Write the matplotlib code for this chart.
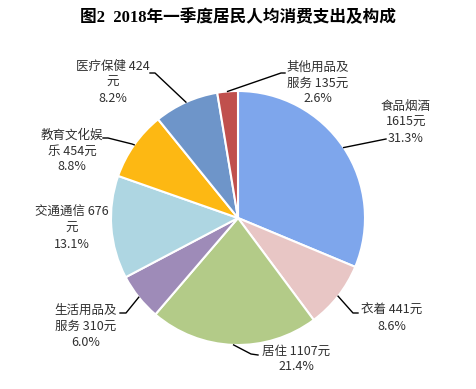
import numpy as np
import matplotlib
matplotlib.use("Agg")
import matplotlib.pyplot as plt

plt.rcParams['font.family'] = ['Noto Sans CJK SC', 'DejaVu Sans']

categories = ["食品烟酒", "衣着", "居住", "生活用品及服务", "交通通信",
              "教育文化娱乐", "医疗保健", "其他用品及服务"]
amounts = [1615, 441, 1107, 310, 676, 454, 424, 135]
percents = ["31.3%", "8.6%", "21.4%", "6.0%", "13.1%", "8.8%", "8.2%", "2.6%"]
label_texts = [
    "食品烟酒\n1615元\n31.3%",
    "衣着 441元\n8.6%",
    "居住 1107元\n21.4%",
    "生活用品及\n服务 310元\n6.0%",
    "交通通信 676\n元\n13.1%",
    "教育文化娱\n乐 454元\n8.8%",
    "医疗保健 424\n元\n8.2%",
    "其他用品及\n服务 135元\n2.6%",
]
colors = ["#7EA6EC", "#E8C6C5", "#B3CB88", "#9E8BB8", "#AED6E2",
          "#FDB813", "#6E95C9", "#C0504D"]

# layout in pixels (figure 476x389)
W, H = 476, 389
CX, CY, R = 238, 218, 127

fig = plt.figure(figsize=(W / 100, H / 100), dpi=100)
ax = fig.add_axes([(CX - R) / W, (H - CY - R) / H, 2 * R / W, 2 * R / H])

wedges, _ = ax.pie(amounts, colors=colors, startangle=90, counterclock=False,
                   wedgeprops=dict(edgecolor="white", linewidth=1.5))
ax.set_xlim(-1, 1)
ax.set_ylim(-1, 1)
ax.set_aspect("equal")
ax.axis("off")


def to_data(px, py):
    return (px - CX) / R, (CY - py) / R


# text centre and leader elbow points (pixels)
text_pos = [(406, 122), (392, 318), (296, 359), (86, 326), (72, 228),
            (72, 151), (113, 82), (318, 83)]
leaders = [
    [(386, 139)],
    [(353, 313), (358, 313)],
    [(251, 354), (258, 355)],
    [(126, 313), (120, 313)],
    None,
    [(132, 144), (108, 138), (103, 138)],
    [(155, 73), (150, 73)],
    [(281, 73), (285, 73)],
]

for w, txt, tp, ld in zip(wedges, label_texts, text_pos, leaders):
    x, y = to_data(*tp)
    ax.text(x, y, txt, ha="center", va="center", fontsize=9,
            color="#303030", linespacing=1.3, fontweight="medium")
    if ld is None:
        continue
    mid = np.deg2rad((w.theta1 + w.theta2) / 2)
    xs = [np.cos(mid)]
    ys = [np.sin(mid)]
    for p in ld:
        dx, dy = to_data(*p)
        xs.append(dx)
        ys.append(dy)
    ax.plot(xs, ys, color="black", linewidth=1.0, clip_on=False)

fig.text(0.5, 1 - 18 / H, "图2  2018年一季度居民人均消费支出及构成",
         ha="center", va="center", fontsize=12, fontweight="bold",
         family=['Liberation Serif', 'Noto Sans CJK SC'])

fig.savefig("out.png", dpi=100)
